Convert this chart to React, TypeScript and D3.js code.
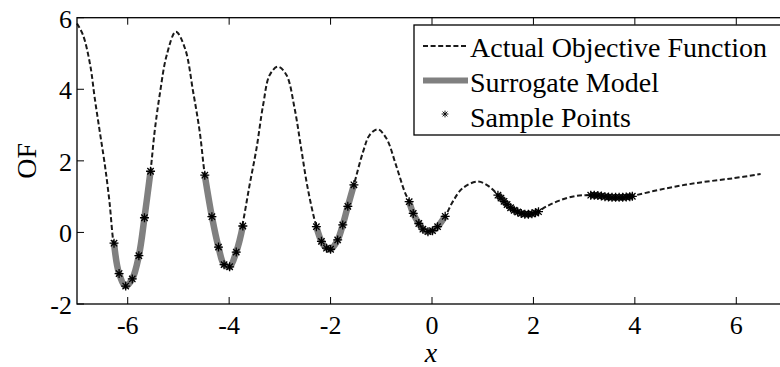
import React from 'react';
import * as d3 from 'd3';

const xTicks = [-6, -4, -2, 0, 2, 4, 6];
const yTicks = [-2, 0, 2, 4, 6];

const actualX = [
  -7.0, -6.88, -6.74, -6.65, -6.55, -6.45, -6.36, -6.28, -6.17, -6.05, -5.92, -5.79, -5.67, -5.55,
  -5.47, -5.37, -5.23, -5.05, -4.87, -4.71, -4.58, -4.48, -4.35, -4.21, -4.09, -3.99, -3.86, -3.74,
  -3.6, -3.46, -3.33, -3.2, -3.04, -2.87, -2.71, -2.58, -2.45, -2.28, -2.18, -2.08, -2.0, -1.87,
  -1.76, -1.66, -1.54, -1.36, -1.23, -1.07, -0.9, -0.71, -0.54, -0.45, -0.37, -0.26, -0.18, -0.08,
  0.01, 0.11, 0.26, 0.41, 0.6, 0.9, 1.13, 1.33, 1.52, 1.72, 1.88, 2.05, 2.25, 2.51, 2.84, 3.1,
  3.49, 3.82, 3.95, 4.61, 5.26, 5.92, 6.48,
];
const actualY = [
  5.84, 5.51, 4.68, 3.75, 2.81, 1.88, 0.86, -0.3, -1.15, -1.51, -1.3, -0.64, 0.41, 1.71,
  2.81, 3.84, 4.96, 5.61, 5.14, 3.93, 2.81, 1.6, 0.44, -0.41, -0.9, -0.96, -0.55, 0.19,
  1.3, 2.35, 3.56, 4.4, 4.63, 4.4, 3.47, 2.35, 1.23, 0.16, -0.25, -0.44, -0.47, -0.21,
  0.21, 0.73, 1.33, 2.25, 2.72, 2.88, 2.63, 1.88, 1.14, 0.86, 0.53, 0.25, 0.09, 0.02,
  0.05, 0.16, 0.45, 0.86, 1.23, 1.42, 1.28, 1.0, 0.72, 0.55, 0.51, 0.55, 0.72, 0.89, 1.02, 1.04,
  0.99, 0.99, 1.02, 1.23, 1.39, 1.51, 1.63,
];

// sample points, grouped into the local surrogate regions
const sampleGroup = [
  1, 1, 1, 1, 1, 1, 1,
  2, 2, 2, 2, 2, 2, 2,
  3, 3, 3, 3, 3, 3, 3, 3,
  4, 4, 4, 4, 4, 4, 4, 4,
  5, 5, 5, 5, 5, 5, 5, 5, 5, 5, 5, 5, 5,
  6, 6, 6, 6, 6, 6, 6, 6, 6, 6, 6, 6, 6,
];
const sampleX = [
  -6.27, -6.17, -6.04, -5.91, -5.78, -5.67, -5.55,
  -4.48, -4.34, -4.21, -4.1, -3.99, -3.86, -3.73,
  -2.28, -2.18, -2.08, -2.0, -1.86, -1.76, -1.66, -1.54,
  -0.45, -0.37, -0.26, -0.18, -0.08, 0.01, 0.11, 0.26,
  1.3, 1.36, 1.42, 1.48, 1.55, 1.62, 1.69, 1.76, 1.83, 1.9, 1.97, 2.04, 2.1,
  3.13, 3.2, 3.27, 3.34, 3.41, 3.48, 3.55, 3.62, 3.69, 3.76, 3.83, 3.9, 3.95,
];
const sampleY = [
  -0.3, -1.15, -1.5, -1.3, -0.65, 0.41, 1.71,
  1.6, 0.44, -0.41, -0.9, -0.96, -0.55, 0.18,
  0.16, -0.25, -0.44, -0.47, -0.21, 0.21, 0.73, 1.33,
  0.86, 0.53, 0.25, 0.09, 0.02, 0.05, 0.16, 0.45,
  1.04, 0.96, 0.87, 0.78, 0.69, 0.62, 0.57, 0.53, 0.51, 0.51, 0.52, 0.55, 0.58,
  1.04, 1.04, 1.03, 1.02, 1.0, 0.99, 0.98, 0.98, 0.98, 0.98, 0.99, 1.0, 1.01,
];

const legendLabels = ['Actual Objective Function', 'Surrogate Model', 'Sample Points'];

const FONT = '"Liberation Serif", "Times New Roman", serif';
const STAR = 'M-4.5,0H4.5M0,-4.5V4.5M-3.2,-3.2L3.2,3.2M-3.2,3.2L3.2,-3.2';

export default function App() {
  const W = 780;
  const H = 367;
  const x = d3.scaleLinear().domain([-7, 7]).range([77, 787]);
  const y = d3.scaleLinear().domain([-2, 6]).range([304, 17.7]);
  const line = d3
    .line<[number, number]>()
    .x((d) => x(d[0]))
    .y((d) => y(d[1]))
    .curve(d3.curveCatmullRom);

  const actual: [number, number][] = actualX.map((v, i) => [v, actualY[i]]);
  const groups = d3.groups(
    sampleX.map((v, i) => ({ g: sampleGroup[i], p: [v, sampleY[i]] as [number, number] })),
    (d) => d.g
  );

  const [x0, x1] = x.range();
  const [y0, y1] = y.range();
  const tl = 7;

  return (
    <svg
      width={W}
      height={H}
      style={{ position: 'absolute', left: 0, top: 0, background: '#fff' }}
      fontFamily={FONT}
    >
      <rect x={0} y={0} width={W} height={H} fill="#fff" />
      {/* actual function */}
      <path d={line(actual) || ''} fill="none" stroke="#1a1a1a" strokeWidth={2} strokeDasharray="5,2.6" />
      {/* surrogate segments */}
      {groups.map(([g, pts]) => (
        <path
          key={'s' + g}
          d={line(pts.map((d) => d.p)) || ''}
          fill="none"
          stroke="#808080"
          strokeWidth={6.5}
          strokeLinecap="butt"
        />
      ))}
      {/* sample points */}
      {sampleX.map((v, i) => (
        <path
          key={'p' + i}
          d={STAR}
          transform={`translate(${x(v)},${y(sampleY[i])})`}
          stroke="#000"
          strokeWidth={1.3}
          fill="none"
        />
      ))}
      {/* axes box */}
      <rect x={x0} y={y1} width={x1 - x0} height={y0 - y1} fill="none" stroke="#000" strokeWidth={1.3} />
      {xTicks.map((t) => (
        <g key={'xt' + t}>
          <line x1={x(t)} x2={x(t)} y1={y0} y2={y0 - tl} stroke="#000" strokeWidth={1} />
          <line x1={x(t)} x2={x(t)} y1={y1} y2={y1 + tl} stroke="#000" strokeWidth={1} />
          <text x={x(t)} y={334} fontSize={26} textAnchor="middle" fill="#000">
            {t}
          </text>
        </g>
      ))}
      {yTicks.map((t) => (
        <g key={'yt' + t}>
          <line x1={x0} x2={x0 + tl} y1={y(t)} y2={y(t)} stroke="#000" strokeWidth={1} />
          <line x1={x1} x2={x1 - tl} y1={y(t)} y2={y(t)} stroke="#000" strokeWidth={1} />
          <text x={72} y={y(t) + 10} fontSize={26} textAnchor="end" fill="#000">
            {t}
          </text>
        </g>
      ))}
      {/* axis labels */}
      <text x={431} y={362} fontSize={28} fontStyle="italic" textAnchor="middle" fill="#000">
        x
      </text>
      <text
        transform={`translate(36,${(y0 + y1) / 2}) rotate(-90)`}
        fontSize={28}
        textAnchor="middle"
        fill="#000"
      >
        OF
      </text>
      {/* legend */}
      <g>
        <rect x={414} y={25} width={400} height={110} fill="#fff" stroke="#000" strokeWidth={1.3} />
        <line x1={423} x2={468} y1={46} y2={46} stroke="#1a1a1a" strokeWidth={1.8} strokeDasharray="5,2.6" />
        <line x1={423} x2={468} y1={80.5} y2={80.5} stroke="#808080" strokeWidth={6} />
        <path d={STAR} transform="translate(445,114) scale(0.75)" stroke="#000" strokeWidth={1.2} fill="none" />
        {legendLabels.map((l, i) => (
          <text key={l} x={470} y={56.7 + i * 35} fontSize={28} fill="#000">
            {l}
          </text>
        ))}
      </g>
    </svg>
  );
}
